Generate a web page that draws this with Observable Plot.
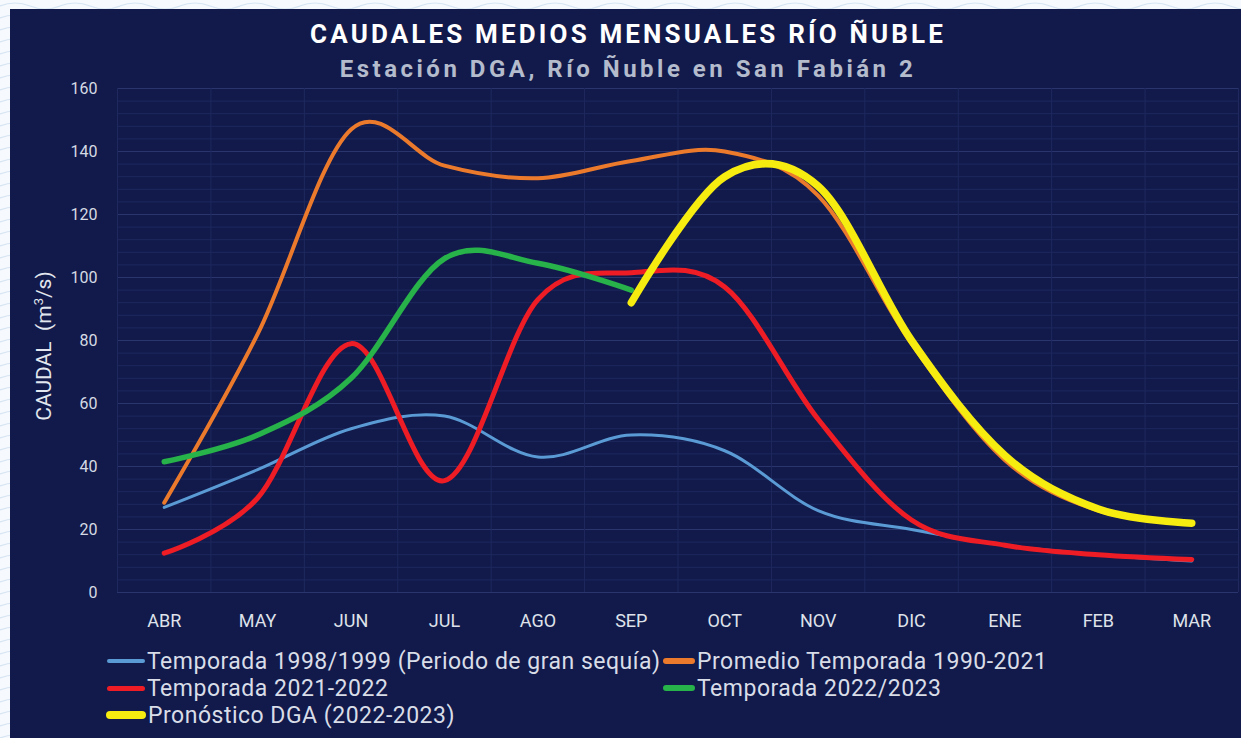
<!DOCTYPE html>
<html>
<head>
<meta charset="utf-8">
<script src="https://cdn.jsdelivr.net/npm/d3@7"></script>
<script src="https://cdn.jsdelivr.net/npm/@observablehq/plot@0.6"></script>
<style>
  html, body { margin: 0; padding: 0; }
  body {
    width: 1241px; height: 738px; position: relative; overflow: hidden;
    background-color: #f6f9fd;
    background-image: url("data:image/svg+xml;utf8,<svg xmlns='http://www.w3.org/2000/svg' width='60' height='12'><path d='M0 6 Q15 0 30 6 T60 6' fill='none' stroke='%23d5e4f3' stroke-width='1.2'/></svg>");
    font-family: Roboto, "Noto Sans", sans-serif;
  }
  #panel { position: absolute; left: 10px; top: 9px; width: 1231px; height: 729px; background: #111a4a; }
  #chart { position: absolute; left: 0; top: 0; }
  .title { position: absolute; left: 0; width: 1256px; text-align: center; font-weight: 700; white-space: nowrap; }
  #t1 { top: 19px; font-size: 26px; color: #ffffff; letter-spacing: 3.15px; }
  #t2 { top: 55px; font-size: 24px; color: #b3bbcc; letter-spacing: 3.5px; }
  #ylab { position: absolute; left: 43px; top: 346px; transform: translate(-50%, -50%) rotate(-90deg);
          font-size: 21px; color: #e2e6ee; white-space: pre; }
  .leg { position: absolute; display: flex; align-items: center; font-size: 23px; color: #d9dde8; white-space: nowrap; letter-spacing: 0.5px; }
  .sw { display: inline-block; border-radius: 4px; margin-right: 2px; }
</style>
</head>
<body>
<div id="panel"></div>
<div id="chart"></div>
<div class="title" id="t1">CAUDALES MEDIOS MENSUALES RÍO ÑUBLE</div>
<div class="title" id="t2">Estación DGA, Río Ñuble en San Fabián 2</div>
<div id="ylab">CAUDAL  (m<sup style="font-size:13px">3</sup>/s)</div>
<div id="legend"></div>
<script>
const months = ["ABR","MAY","JUN","JUL","AGO","SEP","OCT","NOV","DIC","ENE","FEB","MAR"];
const yTicks = [0, 20, 40, 60, 80, 100, 120, 140, 160];

const seq1998   = [27, 39, 52, 56, 43, 50, 45, 26, 20, 15, 12, 10];
const prom9021  = [28.5, 82, 147, 135.5, 131.5, 137, 140, 126, 79, 42, 26, 22];
const temp2122  = [12.5, 30, 79, 35.5, 93, 101.5, 97, 55, 23, 15, 12, 10.5];
const temp2223  = [41.5, 50, 68, 106, 104.5, 96];            // ABR..SEP
const pronDGA   = [92, 132, 129, 80, 43.5, 26.5, 22];        // SEP..MAR
const pronStart = months.indexOf("SEP");

const seriesNames = [
  "Temporada 1998/1999 (Periodo de gran sequía)",
  "Promedio Temporada 1990-2021",
  "Temporada 2021-2022",
  "Temporada 2022/2023",
  "Pronóstico DGA (2022-2023)"
];
const colors = ["#5b9bd5", "#ec7a2c", "#ee1c25", "#27b24a", "#f7ec0f"];
const widths = [3, 4, 5, 5.5, 7.5];

const toRows = (vals, start = 0) => vals.map((v, k) => ({i: k + start, v}));
const seriesData = [
  toRows(seq1998), toRows(prom9021), toRows(temp2122), toRows(temp2223), toRows(pronDGA, pronStart)
];

const minor = d3.range(0, 161, 4);
const bounds = d3.range(-0.5, months.length, 1);

const chart = Plot.plot({
  width: 1241, height: 640,
  marginLeft: 117, marginRight: 3, marginTop: 88, marginBottom: 48,
  x: {type: "linear", domain: [-0.5, months.length - 0.5]},
  y: {domain: [0, 160]},
  style: {background: "transparent", color: "#d6dae4", fontFamily: "Roboto, sans-serif"},
  marks: [
    Plot.ruleY(minor, {y: d => d, stroke: d => d % 20 === 0 ? "#2a356e" : "#1f295e", strokeWidth: 1}),
    Plot.ruleX(bounds, {x: d => d, stroke: "#1f295e", strokeWidth: 1}),
    Plot.axisY(yTicks, {tickSize: 0, tickPadding: 20, fontSize: 16, label: null, fill: "#d6dae4"}),
    Plot.axisX(d3.range(months.length), {tickFormat: i => months[i], tickSize: 0, tickPadding: 22, fontSize: 18, label: null, fill: "#dfe2ea"}),
    ...seriesData.map((rows, s) => Plot.line(rows, {
      x: "i", y: "v", stroke: colors[s], strokeWidth: widths[s],
      curve: "cardinal", strokeLinecap: "round", strokeLinejoin: "round"
    }))
  ]
});
document.getElementById("chart").appendChild(chart);

// legend
const legendPos = [
  {left: 107, top: 661, sw: 38, h: 4},
  {left: 663, top: 661, sw: 32, h: 6},
  {left: 107, top: 688, sw: 38, h: 5},
  {left: 663, top: 688, sw: 32, h: 6},
  {left: 106, top: 715, sw: 40, h: 8}
];
const leg = document.getElementById("legend");
seriesNames.forEach((name, s) => {
  const p = legendPos[s];
  const div = document.createElement("div");
  div.className = "leg";
  div.style.left = p.left + "px";
  div.style.top = (p.top - 14) + "px";
  div.style.height = "28px";
  const sw = document.createElement("span");
  sw.className = "sw";
  sw.style.width = p.sw + "px";
  sw.style.height = p.h + "px";
  sw.style.background = colors[s];
  div.appendChild(sw);
  const t = document.createElement("span");
  t.textContent = name;
  div.appendChild(t);
  leg.appendChild(div);
});
</script>
</body>
</html>
